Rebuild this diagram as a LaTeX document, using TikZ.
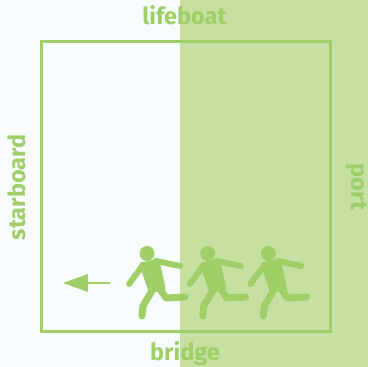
\documentclass[tikz,border=0pt]{standalone}
\usepackage{fontspec}
\setmainfont{Fira Sans}
\usetikzlibrary{arrows.meta}
\definecolor{bgL}{RGB}{248,252,255}
\definecolor{fillG}{RGB}{197,224,160}
\definecolor{strokeG}{RGB}{160,207,104}
\begin{document}
\begin{tikzpicture}[x=1pt,y=-1pt,
  lbl/.style={text=strokeG,font=\fontsize{23.5}{27}\selectfont\bfseries,inner sep=0pt,anchor=base},
  limb/.style={draw=strokeG,line width=6pt,line cap=round,line join=round},
  legline/.style={draw=strokeG,line width=7pt,line cap=round,line join=round}]
\useasboundingbox (0,0) rectangle (368,367);
\fill[bgL] (0,0) rectangle (368,367);
\fill[fillG] (180,0) rectangle (368,367);
\draw[strokeG,line width=2.7pt] (41.3,41.3) rectangle (330.7,331.3);
\node[lbl] (lifeboat) at (184.5,24) {lifeboat};
\node[lbl] (bridge) at (185,360.5) {bridge};
\node[lbl,rotate=90] (starboard) at (25,187.5) {starboard};
\node[lbl,rotate=-90] (port) at (351.5,187) {port};
\coordinate (arrS) at (110,283);
\coordinate (arrE) at (63,283);
\draw[strokeG,line width=2.7pt,-{Triangle[length=25pt,width=17.4pt]}] (arrS) -- (arrE);
\foreach \dx in {0,60.7,121.4}{
\begin{scope}[shift={(\dx,0)}]
  \fill[strokeG] (147,253.5) circle (7.5);
  \fill[strokeG,rounded corners=2pt] (139,263) -- (159,258.5) -- (166,290) -- (149,293) -- cycle;
  \draw[limb] (156,261) -- (180,266);
  \draw[limb] (143,265) -- (129,284);
  \draw[legline] (153,289) -- (143,306) -- (142,316);
  \draw[legline] (160,289) -- (166,298) -- (185,297);
\end{scope}
}
\end{tikzpicture}
\end{document}
